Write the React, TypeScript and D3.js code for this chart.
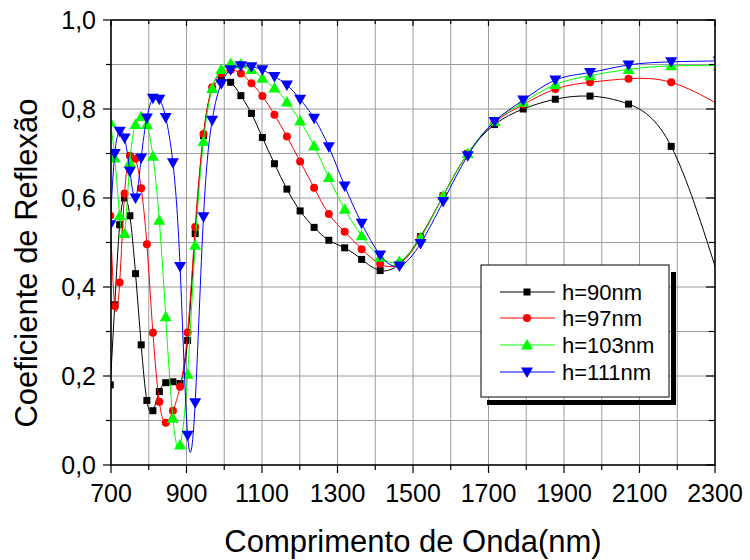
import React from "react";
import * as d3 from "d3";

// comprimento de onda (nm), pontos medidos
const wavelength = [698, 710, 723, 736, 750, 765, 780, 795, 811, 828, 845, 864, 883, 903, 923, 945, 968, 992, 1017, 1044,
  1072, 1101, 1133, 1166, 1201, 1238, 1277, 1319, 1364, 1413, 1464, 1520, 1580, 1645, 1716, 1792, 1877, 1969, 2071, 2184, 2310];

const h90 = [0.18, 0.36, 0.54, 0.60, 0.56, 0.43, 0.27, 0.145, 0.122, 0.165, 0.185, 0.187, 0.183, 0.28, 0.52, 0.74, 0.845, 0.865, 0.86, 0.83,
  0.79, 0.736, 0.677, 0.62, 0.571, 0.534, 0.505, 0.488, 0.462, 0.437, 0.452, 0.513, 0.605, 0.70, 0.765, 0.80, 0.822, 0.829, 0.811, 0.716, 0.42];
const h97 = [0.56, 0.357, 0.41, 0.61, 0.695, 0.688, 0.622, 0.496, 0.297, 0.142, 0.095, 0.122, 0.176, 0.298, 0.535, 0.744, 0.849, 0.88, 0.888, 0.88,
  0.858, 0.829, 0.787, 0.738, 0.682, 0.623, 0.564, 0.524, 0.485, 0.452, 0.452, 0.51, 0.605, 0.70, 0.77, 0.81, 0.845, 0.86, 0.868, 0.86, 0.81];
const h103 = [0.77, 0.69, 0.56, 0.52, 0.68, 0.765, 0.783, 0.765, 0.694, 0.55, 0.333, 0.105, 0.045, 0.204, 0.494, 0.727, 0.846, 0.889, 0.902, 0.901,
  0.889, 0.869, 0.847, 0.816, 0.773, 0.717, 0.646, 0.575, 0.515, 0.467, 0.458, 0.51, 0.605, 0.70, 0.772, 0.815, 0.855, 0.875, 0.889, 0.897, 0.897];
const h111 = [0.54, 0.70, 0.75, 0.735, 0.66, 0.60, 0.69, 0.78, 0.824, 0.822, 0.781, 0.679, 0.446, 0.067, 0.14, 0.558, 0.775, 0.857, 0.888, 0.897,
  0.895, 0.888, 0.873, 0.854, 0.822, 0.779, 0.715, 0.627, 0.543, 0.472, 0.447, 0.498, 0.592, 0.695, 0.772, 0.82, 0.865, 0.882, 0.899, 0.906, 0.908];

const seriesNames = ["h=90nm", "h=97nm", "h=103nm", "h=111nm"];
const seriesValues = [h90, h97, h103, h111];
const seriesColors = ["#000000", "#ff0000", "#00ff00", "#0000ff"];
const seriesSymbols = ["square", "circle", "up", "down"];

const xTicks = [700, 900, 1100, 1300, 1500, 1700, 1900, 2100, 2300];
const yTicks = [0, 0.2, 0.4, 0.6, 0.8, 1.0];

const W = 750, H = 560;
const left = 111, right = 715, top = 20, bottom = 465;
const font = "'Liberation Sans', Arial, sans-serif";

const Marker = ({ kind, x, y, color }: { kind: string; x: number; y: number; color: string }) => {
  if (kind === "square") return <rect x={x - 3.5} y={y - 3.5} width={7} height={7} fill={color} />;
  if (kind === "circle") return <circle cx={x} cy={y} r={4} fill={color} />;
  if (kind === "up") return <path d={`M${x},${y - 6}L${x + 6},${y + 4.5}L${x - 6},${y + 4.5}Z`} fill={color} />;
  return <path d={`M${x},${y + 6}L${x + 6},${y - 4.5}L${x - 6},${y - 4.5}Z`} fill={color} />;
};

export default function App() {
  const x = d3.scaleLinear().domain([700, 2300]).range([left, right]);
  const y = d3.scaleLinear().domain([0, 1]).range([bottom, top]);
  const line = d3.line<number>()
    .x((d, i) => x(wavelength[i]))
    .y((d) => y(d))
    .curve(d3.curveNatural);

  const xGrid = d3.range(700, 2301, 100);
  const yGrid = d3.range(0, 11).map((i) => i / 10);
  const fmt = (v: number) => v.toFixed(1).replace(".", ",");

  const legX = 481, legY = 265;
  const rows = [292, 318, 345, 372];

  return (
    <svg width={W} height={H} style={{ position: "absolute", left: 0, top: 0, background: "#fff" }} fontFamily={font}>
      <defs>
        <clipPath id="plot">
          <rect x={left} y={top} width={right - left} height={bottom - top} />
        </clipPath>
      </defs>
      <rect x={0} y={0} width={W} height={H} fill="#fff" />
      {/* grid */}
      {xGrid.map((g) => (
        <line key={"gx" + g} x1={x(g)} x2={x(g)} y1={top} y2={bottom} stroke="#9c9c9c" strokeWidth={1} />
      ))}
      {yGrid.map((g) => (
        <line key={"gy" + g} x1={left} x2={right} y1={y(g)} y2={y(g)} stroke="#9c9c9c" strokeWidth={1} />
      ))}

      {/* curvas */}
      <g clipPath="url(#plot)">
        {seriesValues.map((vals, s) => (
          <g key={seriesNames[s]}>
            <path d={line(vals) || ""} fill="none" stroke={seriesColors[s]} strokeWidth={1} />
            {vals.map((v, i) => (
              <Marker key={i} kind={seriesSymbols[s]} x={x(wavelength[i])} y={y(v)} color={seriesColors[s]} />
            ))}
          </g>
        ))}
      </g>

      {/* moldura e ticks */}
      <rect x={left} y={top} width={right - left} height={bottom - top} fill="none" stroke="#000" strokeWidth={1.5} />
      {xGrid.map((g, i) => (
        <g key={"tx" + g}>
          <line x1={x(g)} x2={x(g)} y1={bottom} y2={bottom + (i % 2 === 0 ? 8 : 5)} stroke="#000" strokeWidth={1.2} />
          <line x1={x(g)} x2={x(g)} y1={top} y2={top + (i % 2 === 0 ? 6 : 4)} stroke="#000" strokeWidth={1.2} />
        </g>
      ))}
      {yGrid.map((g, i) => (
        <g key={"ty" + g}>
          <line x1={left - (i % 2 === 0 ? 8 : 5)} x2={left} y1={y(g)} y2={y(g)} stroke="#000" strokeWidth={1.2} />
          <line x1={right - (i % 2 === 0 ? 9 : 6)} x2={right} y1={y(g)} y2={y(g)} stroke="#000" strokeWidth={1.2} />
        </g>
      ))}
      {xTicks.map((t) => (
        <text key={"lx" + t} x={x(t)} y={502} textAnchor="middle" fontSize={25} fill="#000">{t}</text>
      ))}
      {yTicks.map((t) => (
        <text key={"ly" + t} x={96} y={y(t) + 9} textAnchor="end" fontSize={25} fill="#000">{fmt(t)}</text>
      ))}

      {/* titulos */}
      <text x={413} y={552} textAnchor="middle" fontSize={31} fill="#000">Comprimento de Onda(nm)</text>
      <text transform={`translate(37,263) rotate(-90)`} textAnchor="middle" fontSize={31} fill="#000">Coeficiente de Reflexão</text>

      {/* legenda */}
      <line x1={673.5} x2={673.5} y1={272} y2={405} stroke="#000" strokeWidth={5} />
      <line x1={487} x2={676} y1={402.5} y2={402.5} stroke="#000" strokeWidth={5} />
      <rect x={legX} y={legY} width={188} height={132} fill="#fff" stroke="#000" strokeWidth={1} />
      {seriesNames.map((n, s) => (
        <g key={"leg" + n}>
          <line x1={500} x2={555} y1={rows[s]} y2={rows[s]} stroke={seriesColors[s]} strokeWidth={1} />
          <Marker kind={seriesSymbols[s]} x={527} y={rows[s]} color={seriesColors[s]} />
          <text x={562} y={rows[s] + 8} fontSize={22} fill="#000">{n}</text>
        </g>
      ))}
    </svg>
  );
}
